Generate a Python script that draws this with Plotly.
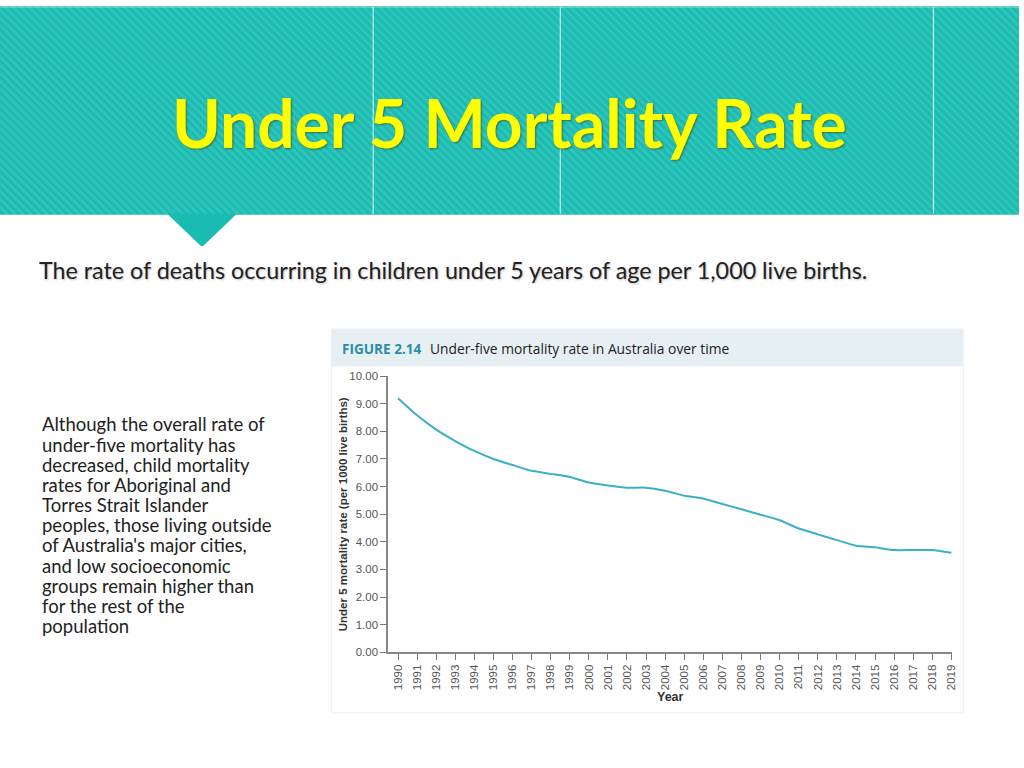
import plotly.graph_objects as go

# ---------------- data ----------------
years = list(range(1990, 2020))
rate = [9.20, 8.58, 8.06, 7.65, 7.29, 7.00, 6.78, 6.57, 6.46, 6.35,
        6.15, 6.04, 5.96, 5.96, 5.85, 5.67, 5.57, 5.37, 5.18, 4.98,
        4.78, 4.48, 4.27, 4.06, 3.86, 3.80, 3.70, 3.70, 3.70, 3.60]
y_ticks = [0, 1, 2, 3, 4, 5, 6, 7, 8, 9, 10]
y_ticktext = ["%.2f" % v for v in y_ticks]

slide_title = "Under 5 Mortality Rate"
subtitle = "The rate of deaths occurring in children under 5 years of age per 1,000 live births."
paragraph = ["Although the overall rate of", "under-five mortality has",
             "decreased, child mortality", "rates for Aboriginal and",
             "Torres Strait Islander", "peoples, those living outside",
             "of Australia's major cities,", "and low socioeconomic",
             "groups remain higher than", "for the rest of the", "population"]
fig_label = "FIGURE 2.14"
fig_title = "Under-five mortality rate in Australia over time"
y_title = "Under 5 mortality rate (per 1000 live births)"
x_title = "Year"

W, H = 1024, 768
def px(x): return x / W
def py(y): return 1 - y / H

TEAL = "#18bcb1"
STRIPE = "rgba(255,255,255,0.11)"

fig = go.Figure()
fig.add_trace(go.Scatter(x=years, y=rate, mode="lines",
                         line=dict(color="#3aafc8", width=2, shape="spline", smoothing=0.5),
                         hoverinfo="skip", showlegend=False))

shapes = []
# header band
shapes.append(dict(type="rect", xref="paper", yref="paper", x0=0, x1=1, y0=py(212), y1=1,
                   fillcolor=TEAL, line=dict(width=0), layer="below"))
# diagonal stripes (x - y = c), clipped to the band
parts = []
xa, xb, ya, yb = 0, W, 0, 212
c = xa - yb
while c <= xb - ya:
    y0 = max(ya, xa - c)
    y1 = min(yb, xb - c)
    if y1 > y0:
        parts.append("M%.5f,%.5f L%.5f,%.5f" % (px(c + y0), py(y0), px(c + y1), py(y1)))
    c += 8
shapes.append(dict(type="path", xref="paper", yref="paper", path=" ".join(parts),
                   line=dict(color=STRIPE, width=3), layer="below"))
# thin light line at the very top
shapes.append(dict(type="line", xref="paper", yref="paper", x0=0, x1=1, y0=py(1), y1=py(1),
                   line=dict(color="rgba(255,255,255,0.35)", width=1.5), layer="below"))
# white separators
for xs in [375, 563, 938]:
    shapes.append(dict(type="line", xref="paper", yref="paper", x0=px(xs), x1=px(xs),
                       y0=py(1), y1=py(211), line=dict(color="rgba(255,255,255,0.85)", width=1),
                       layer="below"))
# pointer triangle
tri = "M%.5f,%.5f L%.5f,%.5f L%.5f,%.5f Q%.5f,%.5f %.5f,%.5f Z" % (
    px(168), py(211), px(238), py(211), px(206), py(242), px(203), py(246), px(200), py(242))
shapes.append(dict(type="path", xref="paper", yref="paper", path=tri,
                   fillcolor=TEAL, line=dict(width=0), layer="below"))
# chart panel
shapes.append(dict(type="rect", xref="paper", yref="paper", x0=px(333), x1=px(968),
                   y0=py(718), y1=py(328), fillcolor="white",
                   line=dict(color="#eef1f2", width=1), layer="below"))
shapes.append(dict(type="rect", xref="paper", yref="paper", x0=px(333), x1=px(968),
                   y0=py(366), y1=py(328), fillcolor="#e6f0f3",
                   line=dict(width=0), layer="below"))

ann = []
ann.append(dict(text="<b>" + slide_title + "</b>", x=px(512), y=py(118), xref="paper", yref="paper",
                xanchor="center", yanchor="middle", showarrow=False,
                font=dict(family="Lato", size=66, color="#ffff00",
                          shadow="1px 1px 2px rgba(60,60,0,0.6)")))
ann.append(dict(text=subtitle, x=px(37), y=py(268), xref="paper", yref="paper",
                xanchor="left", yanchor="middle", showarrow=False,
                font=dict(family="Lato", size=23.3, color="#222222",
                          shadow="1px 1px 2px rgba(0,0,0,0.25)")))
for i, line in enumerate(paragraph):
    ann.append(dict(text=line, x=px(40), y=py(425 + i * 20.5), xref="paper", yref="paper",
                    xanchor="left", yanchor="middle", showarrow=False,
                    font=dict(family="Lato", size=18.5, color="#222222")))
ann.append(dict(text="<b>" + fig_label + "</b>", x=px(342), y=py(348), xref="paper", yref="paper",
                xanchor="left", yanchor="middle", showarrow=False,
                font=dict(family="Open Sans", size=13.6, color="#2b8ea6")))
ann.append(dict(text=fig_title, x=px(430), y=py(348), xref="paper", yref="paper",
                xanchor="left", yanchor="middle", showarrow=False,
                font=dict(family="Open Sans", size=13.8, color="#222222")))
ann.append(dict(text="<b>" + y_title + "</b>", x=px(345), y=py(516), xref="paper", yref="paper",
                xanchor="center", yanchor="middle", showarrow=False, textangle=-90,
                font=dict(family="Liberation Sans", size=11.5, color="#333333")))
ann.append(dict(text="<b>" + x_title + "</b>", x=px(674), y=py(702), xref="paper", yref="paper",
                xanchor="center", yanchor="middle", showarrow=False,
                font=dict(family="Liberation Sans", size=12.5, color="#333333")))

fig.update_layout(
    width=W, height=H, margin=dict(l=0, r=0, t=0, b=0),
    paper_bgcolor="white", plot_bgcolor="rgba(0,0,0,0)",
    shapes=shapes, annotations=ann, showlegend=False,
    xaxis=dict(domain=[px(390), px(957)], range=[1989.48, 2019.05],
               tickmode="array", tickvals=years, ticktext=[str(y) for y in years],
               tickangle=-90, ticks="outside", ticklen=6, tickcolor="#777", tickwidth=1,
               showline=True, linecolor="#888", linewidth=1.5, showgrid=False, zeroline=False,
               tickfont=dict(family="Liberation Sans", size=11.5, color="#555555"), fixedrange=True),
    yaxis=dict(domain=[py(656.5), py(376)], range=[0, 10],
               tickmode="array", tickvals=y_ticks, ticktext=y_ticktext,
               ticks="outside", ticklen=6, tickcolor="#777", tickwidth=1,
               showline=True, linecolor="#888", linewidth=1.5, showgrid=False, zeroline=False,
               tickfont=dict(family="Liberation Sans", size=11.5, color="#555555"), fixedrange=True),
)

fig.write_html(
    "out.html",
    config={"displayModeBar": False},
    post_script=("document.body.style.margin='0px';"
                 "var d=document.getElementById('{plot_id}');"
                 "d.style.position='absolute';d.style.top='0px';d.style.left='0px';"),
)
